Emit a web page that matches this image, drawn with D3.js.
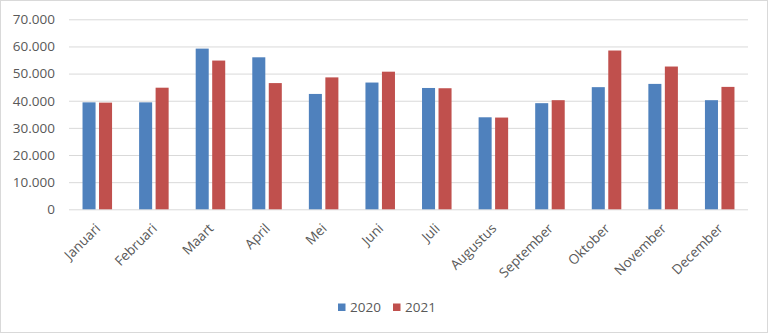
<!DOCTYPE html>
<html><head><meta charset="utf-8">
<script src="https://cdn.jsdelivr.net/npm/d3@7"></script>
<style>html,body{margin:0;padding:0;background:#fff;}svg{display:block;}</style>
</head><body>
<script>
const months = ["Januari","Februari","Maart","April","Mei","Juni","Juli","Augustus","September","Oktober","November","December"];
const series = ["2020","2021"];
const values2020 = [39400,39400,59200,56000,42500,46700,44700,33900,39100,45000,46200,40200];
const values2021 = [39300,44800,54800,46500,48600,50700,44600,33800,40200,58500,52600,45100];
const yTicks = [0,10000,20000,30000,40000,50000,60000,70000];
const colors = ["#4F81BD","#C0504D"];

(function(){
const W = 768, H = 333;
const svg = d3.select("body").append("svg").attr("width", W).attr("height", H);
svg.append("rect").attr("x",0.5).attr("y",0.5).attr("width",W-1).attr("height",H-1)
  .attr("fill","#fff").attr("stroke","#D9D9D9");

const pl = 69, pr = 748, pt = 19.3, pb = 209.3;
const x = d3.scaleBand().domain(months).range([pl,pr]);
const xs = d3.scaleBand().domain(series).range([0, x.bandwidth()]).paddingInner(0.21).paddingOuter(0.82);
const y = d3.scaleLinear().domain([0,70000]).range([pb, pt]);
const fmt = v => d3.format(",")(v).replace(/,/g,".");
const font = "'Open Sans', 'Liberation Sans', sans-serif";

const yAxis = d3.axisLeft(y).tickValues(yTicks).tickSize(-(pr-pl)).tickFormat(fmt).tickPadding(14);
const gy = svg.append("g").attr("transform",`translate(${pl},0)`).call(yAxis);
gy.select(".domain").remove();
gy.selectAll(".tick line").attr("stroke","#D9D9D9").attr("stroke-width",1);
gy.selectAll(".tick text").attr("fill","#595959").style("font-family",font).style("font-size","13.5px");

const data = [values2020, values2021];
series.forEach((s,i)=>{
  svg.append("g").selectAll("rect").data(months).join("rect")
    .attr("x", m => x(m) + xs(s))
    .attr("width", xs.bandwidth())
    .attr("y", (m,j) => y(data[i][j]))
    .attr("height", (m,j) => pb - y(data[i][j]))
    .attr("fill", colors[i]);
});

const xAxis = d3.axisBottom(x).tickSize(0).tickPadding(0);
const gx = svg.append("g").attr("transform",`translate(0,${pb})`).call(xAxis);
gx.select(".domain").remove();
gx.selectAll(".tick text")
  .attr("fill","#595959").style("font-family",font).style("font-size","13.5px")
  .attr("text-anchor","end").attr("dy",null).attr("y",null)
  .attr("transform","translate(4,20) rotate(-45)");

const leg = svg.append("g");
const legX = [338, 393];
series.forEach((s,i)=>{
  leg.append("rect").attr("x",legX[i]).attr("y",303.5).attr("width",7.5).attr("height",7.5).attr("fill",colors[i]);
  leg.append("text").attr("x",legX[i]+12).attr("y",312).text(s)
    .attr("fill","#595959").style("font-family",font).style("font-size","13.5px");
});
})();
</script>
</body></html>
